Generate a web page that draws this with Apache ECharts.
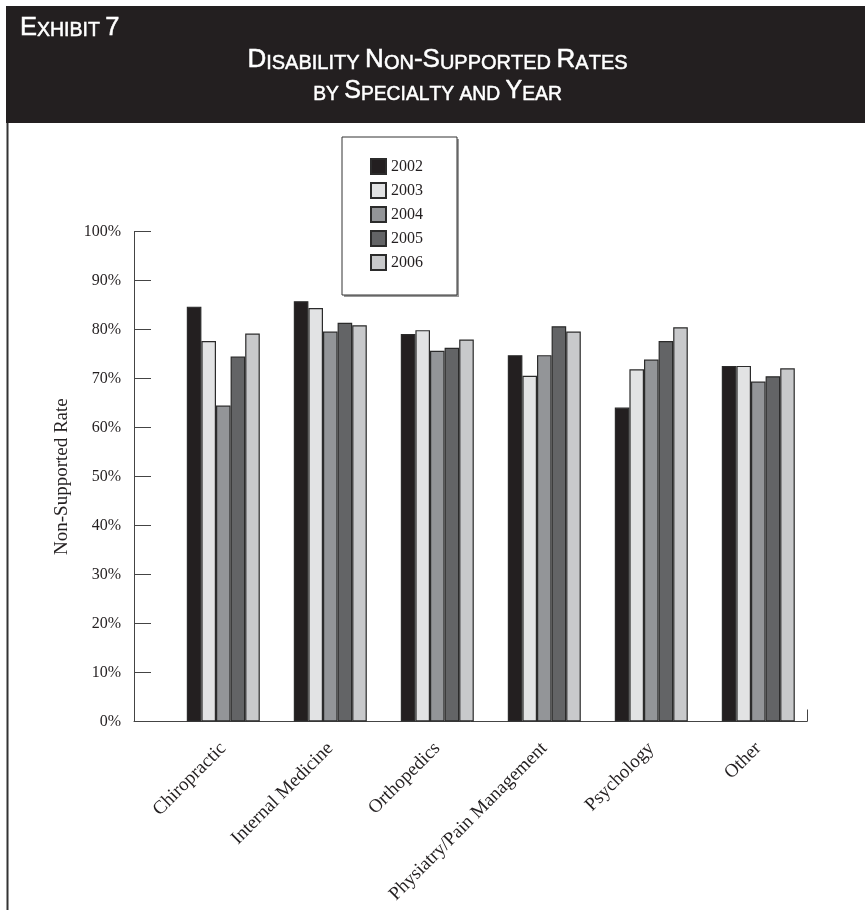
<!DOCTYPE html>
<html>
<head>
<meta charset="utf-8">
<title>Disability Non-Supported Rates by Specialty and Year</title>
<script src="https://cdn.jsdelivr.net/npm/echarts@6/dist/echarts.min.js"></script>
<style>
  html, body { margin: 0; padding: 0; background: #fff; }
  #chart { width: 865px; height: 910px; }
</style>
</head>
<body>
<div id="chart"></div>
<script>
// Specialties along the x axis
const specialties = ['Chiropractic', 'Internal Medicine', 'Orthopedics', 'Physiatry/Pain Management', 'Psychology', 'Other'];
// Years shown as series
const years = ['2002', '2003', '2004', '2005', '2006'];
// Non-supported rate (%) per specialty, one array per year
const rate2002 = [84.7, 85.8, 79.1, 74.8, 64.1, 72.6];
const rate2003 = [77.7, 84.4, 79.9, 70.6, 71.9, 72.6];
const rate2004 = [64.5, 79.6, 75.7, 74.8, 73.9, 69.4];
const rate2005 = [74.5, 81.4, 76.3, 80.7, 77.7, 70.5];
const rate2006 = [79.2, 80.9, 78.0, 79.6, 80.5, 72.1];
// Y axis ticks
const yTicks = [0, 10, 20, 30, 40, 50, 60, 70, 80, 90, 100];

const seriesValues = [rate2002, rate2003, rate2004, rate2005, rate2006];
const seriesColors = ['#231f20', '#e2e3e4', '#939598', '#636466', '#c8c9cb'];

const SERIF = "'Liberation Serif', 'DejaVu Serif', serif";
const SANS = "'Liberation Sans', Arial, sans-serif";
const INK = '#231f20';

// Small-caps emulation: uppercase letters large, lowercase letters as smaller capitals
function smallCaps(str) {
  let out = '';
  for (const ch of str) {
    if (ch === ' ') { out += '{s| }'; continue; }
    if (ch >= 'a' && ch <= 'z') out += '{s|' + ch.toUpperCase() + '}';
    else out += '{b|' + ch + '}';
  }
  return out;
}
function capsRich(big, small) {
  const common = { fontFamily: SANS, fill: '#fff', stroke: '#fff', lineWidth: 0.5, lineHeight: big + 2, verticalAlign: 'bottom' };
  return {
    b: Object.assign({ fontSize: big }, common),
    s: Object.assign({ fontSize: small }, common)
  };
}

const plotTop = 231.7;
const plotBottom = 910 - 721.5;

const chart = echarts.init(document.getElementById('chart'), null, { renderer: 'canvas' });

chart.setOption({
  backgroundColor: '#fff',
  animation: false,
  grid: [
    // bar area: category bands
    { left: 169.8, width: 642, top: plotTop, bottom: plotBottom },
    // frame: axis lines
    { left: 134, width: 673, top: plotTop, bottom: plotBottom }
  ],
  xAxis: [
    {
      type: 'category', gridIndex: 0, data: specialties,
      axisLine: { show: false }, axisTick: { show: false },
      axisLabel: { rotate: 45, margin: 24, fontFamily: SERIF, fontSize: 19, color: INK, interval: 0 }
    },
    {
      type: 'value', gridIndex: 1, min: 0, max: 1, interval: 1,
      axisLine: { show: true, lineStyle: { color: '#444', width: 1 } },
      axisTick: { show: true, inside: true, length: 12, lineStyle: { color: '#444' } },
      axisLabel: { show: false }, splitLine: { show: false }
    }
  ],
  yAxis: [
    { type: 'value', gridIndex: 0, min: 0, max: 100, show: false },
    {
      type: 'value', gridIndex: 1, min: yTicks[0], max: yTicks[yTicks.length - 1], interval: 10,
      name: 'Non-Supported Rate', nameLocation: 'middle', nameGap: 62,
      nameTextStyle: { fontFamily: SERIF, fontSize: 19, color: INK },
      axisLine: { show: true, lineStyle: { color: '#444', width: 1 } },
      axisTick: { show: true, inside: true, length: 17, lineStyle: { color: '#444' } },
      axisLabel: { formatter: '{value}%', margin: 13, fontFamily: SERIF, fontSize: 16, color: INK },
      splitLine: { show: false }
    }
  ],
  legend: {
    orient: 'vertical', left: 365, top: 153,
    itemWidth: 15, itemHeight: 15, itemGap: 7, icon: 'rect',
    textStyle: { fontFamily: SERIF, fontSize: 16, color: INK },
    data: years
  },
  series: years.map((y, i) => ({
    name: y, type: 'bar', xAxisIndex: 0, yAxisIndex: 0,
    data: seriesValues[i], barWidth: 14.6, barGap: '0%',
    itemStyle: { color: seriesColors[i], borderColor: '#2b2b2b', borderWidth: 1.2 }
  })),
  graphic: [
    // header band
    { type: 'rect', shape: { x: 6, y: 6, width: 859, height: 117 }, style: { fill: INK }, z: 0 },
    // page rule down the left side
    { type: 'rect', shape: { x: 6.5, y: 123, width: 2, height: 787 }, style: { fill: '#333' }, z: 0 },
    // legend frame
    { type: 'rect', shape: { x: 344, y: 139, width: 115, height: 158 }, style: { fill: '#999' }, z: 0 },
    { type: 'rect', shape: { x: 342, y: 137, width: 115, height: 158 }, style: { fill: '#fff', stroke: '#333', lineWidth: 1 }, z: 1 },
    {
      type: 'text', x: 20, y: 13, z: 5,
      style: { text: smallCaps('Exhibit 7'), rich: capsRich(25.5, 19.5), align: 'left', verticalAlign: 'top' }
    },
    {
      type: 'text', x: 437.5, y: 45, z: 5,
      style: { text: smallCaps('Disability Non-Supported Rates'), rich: capsRich(26, 20), align: 'center', verticalAlign: 'top' }
    },
    {
      type: 'text', x: 437.5, y: 77, z: 5,
      style: { text: smallCaps('by Specialty and Year'), rich: capsRich(25, 19.3), align: 'center', verticalAlign: 'top' }
    }
  ]
});
</script>
</body>
</html>
